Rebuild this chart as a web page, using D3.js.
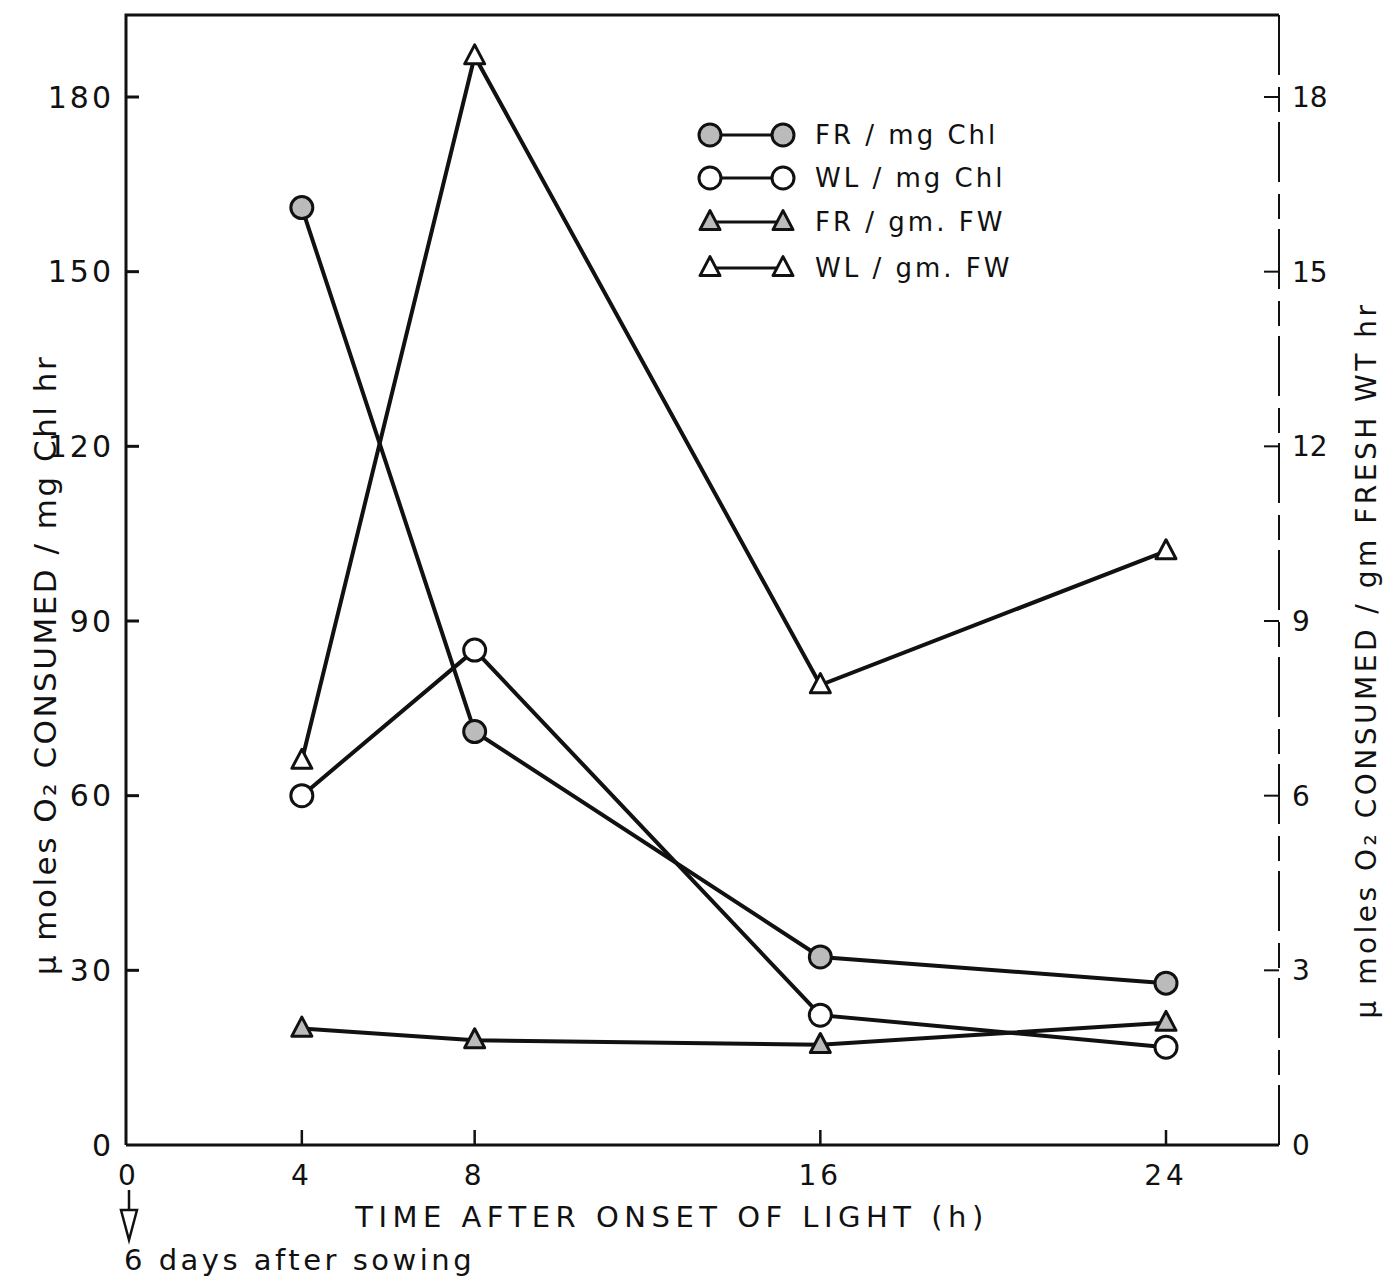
<!DOCTYPE html>
<html>
<head>
<meta charset="utf-8">
<script src="https://cdn.jsdelivr.net/npm/d3@7"></script>
<style>
  body { margin: 0; background: #fff; }
  text { font-family: "DejaVu Sans", sans-serif; fill: #111; }
</style>
</head>
<body>
<div id="chart"></div>
<script>
// hours after onset of light
const hours = [4, 8, 16, 24];
const xTicks = [4, 8, 16, 24];
const leftTicks = [30, 60, 90, 120, 150, 180];
const rightTicks = [3, 6, 9, 12, 15, 18];

// per mg chlorophyll (left axis)
const frChl = [161, 71, 32.3, 27.8];
const wlChl = [60, 85, 22.3, 16.8];
// per gm fresh weight (right axis)
const frFW = [2.0, 1.8, 1.72, 2.1];
const wlFW = [6.6, 18.7, 7.9, 10.2];

const series = [
    { name: "FR / mg Chl", values: frChl, axis: "left", shape: "circle", filled: true },
    { name: "WL / mg Chl", values: wlChl, axis: "left", shape: "circle", filled: false },
    { name: "FR / gm. FW", values: frFW, axis: "right", shape: "triangle", filled: true },
    { name: "WL / gm. FW", values: wlFW, axis: "right", shape: "triangle", filled: false }
];

const width = 1387, height = 1278;
const plot = { left: 126, right: 1279, top: 15, bottom: 1145 };

const svg = d3.select("#chart").append("svg")
    .attr("width", width)
    .attr("height", height);

const x = d3.scaleLinear().domain([0, 24]).range([129, 1166]);
const yL = d3.scaleLinear().domain([0, 180]).range([1145, 97]);
const yR = d3.scaleLinear().domain([0, 18]).range([1145, 97]);

// frame: left axis, top, bottom
svg.append("path")
    .attr("d", `M${plot.left},${plot.bottom} L${plot.left},${plot.top} L${plot.right},${plot.top}`)
    .attr("fill", "none").attr("stroke", "#111").attr("stroke-width", 3);
svg.append("line")
    .attr("x1", plot.left).attr("x2", plot.right)
    .attr("y1", plot.bottom).attr("y2", plot.bottom)
    .attr("stroke", "#111").attr("stroke-width", 3);
// right axis, broken like the print
svg.append("line")
    .attr("x1", plot.right).attr("x2", plot.right)
    .attr("y1", plot.top).attr("y2", plot.bottom)
    .attr("stroke", "#111").attr("stroke-width", 2)
    .attr("stroke-dasharray", "60,12,25,10");

// left ticks + labels
const lt = svg.append("g");
lt.selectAll("line").data(leftTicks).join("line")
    .attr("x1", plot.left).attr("x2", plot.left + 13)
    .attr("y1", d => yL(d)).attr("y2", d => yL(d))
    .attr("stroke", "#111").attr("stroke-width", 3);
lt.selectAll("text").data([0].concat(leftTicks)).join("text")
    .attr("x", 114).attr("y", d => yL(d))
    .attr("dy", "0.36em")
    .attr("text-anchor", "end")
    .attr("font-size", 30)
    .attr("letter-spacing", 3)
    .text(d => d);

// right ticks + labels
const rt = svg.append("g");
rt.selectAll("line").data(rightTicks).join("line")
    .attr("x1", plot.right - 15).attr("x2", plot.right)
    .attr("y1", d => yR(d)).attr("y2", d => yR(d))
    .attr("stroke", "#111").attr("stroke-width", 2);
rt.selectAll("text").data([0].concat(rightTicks)).join("text")
    .attr("x", 1292).attr("y", d => yR(d))
    .attr("dy", "0.36em")
    .attr("font-size", 28)
    .text(d => d);

// x ticks + labels
const xt = svg.append("g");
xt.selectAll("line").data(xTicks).join("line")
    .attr("x1", d => x(d)).attr("x2", d => x(d))
    .attr("y1", plot.bottom).attr("y2", plot.bottom - 15)
    .attr("stroke", "#111").attr("stroke-width", 2.5);
xt.selectAll("text").data([0].concat(xTicks)).join("text")
    .attr("x", d => x(d)).attr("y", 1185)
    .attr("text-anchor", "middle")
    .attr("font-size", 28)
    .attr("letter-spacing", 4)
    .text(d => d);

// axis titles
svg.append("text")
    .attr("x", 672).attr("y", 1227)
    .attr("text-anchor", "middle")
    .attr("font-size", 29)
    .attr("letter-spacing", 5.5)
    .text("TIME AFTER ONSET OF LIGHT (h)");

svg.append("text")
    .attr("transform", "translate(56,665) rotate(-90)")
    .attr("text-anchor", "middle")
    .attr("font-size", 31)
    .attr("letter-spacing", 2.5)
    .text("μ moles O₂ CONSUMED / mg Chl hr");

svg.append("text")
    .attr("transform", "translate(1376,660) rotate(-90)")
    .attr("text-anchor", "middle")
    .attr("font-size", 28)
    .attr("letter-spacing", 3.5)
    .text("μ moles O₂ CONSUMED / gm FRESH WT hr");

// arrow + note under x = 0
svg.append("line")
    .attr("x1", x(0)).attr("x2", x(0)).attr("y1", 1190).attr("y2", 1222)
    .attr("stroke", "#111").attr("stroke-width", 2.5);
svg.append("path")
    .attr("d", `M${x(0) - 8},1210 L${x(0) + 8},1210 L${x(0)},1240 Z`)
    .attr("fill", "#fff").attr("stroke", "#111").attr("stroke-width", 2.5);
svg.append("text")
    .attr("x", 124).attr("y", 1270)
    .attr("font-size", 29)
    .attr("letter-spacing", 3.5)
    .text("6 days after sowing");

// markers
function drawMarker(g, s, cx, cy) {
    const fill = s.filled ? "#bbb" : "#fff";
    if (s.shape === "circle") {
        g.append("circle")
            .attr("cx", cx).attr("cy", cy).attr("r", 11)
            .attr("fill", fill).attr("stroke", "#111").attr("stroke-width", 3);
    } else {
        const h = 19, w = 20;
        g.append("path")
            .attr("d", `M${cx},${cy - h * 0.6} L${cx + w / 2},${cy + h * 0.4} L${cx - w / 2},${cy + h * 0.4} Z`)
            .attr("fill", fill).attr("stroke", "#111").attr("stroke-width", 3)
            .attr("stroke-linejoin", "round");
    }
}

const line = d3.line();
series.forEach(s => {
    const y = s.axis === "left" ? yL : yR;
    const pts = hours.map((h, i) => [x(h), y(s.values[i])]);
    const g = svg.append("g");
    g.append("path")
        .attr("d", line(pts))
        .attr("fill", "none").attr("stroke", "#111").attr("stroke-width", 4);
    pts.forEach(p => drawMarker(g, s, p[0], p[1]));
});

// legend
const legY = [135, 178, 222, 268];
series.forEach((s, i) => {
    const g = svg.append("g");
    g.append("line")
        .attr("x1", 712).attr("x2", 780)
        .attr("y1", legY[i]).attr("y2", legY[i])
        .attr("stroke", "#111").attr("stroke-width", 3);
    drawMarker(g, s, 710, legY[i]);
    drawMarker(g, s, 783, legY[i]);
    g.append("text")
        .attr("x", 815).attr("y", legY[i])
        .attr("dy", "0.36em")
        .attr("font-size", 26)
        .attr("letter-spacing", 3)
        .text(s.name);
});
</script>
</body>
</html>
